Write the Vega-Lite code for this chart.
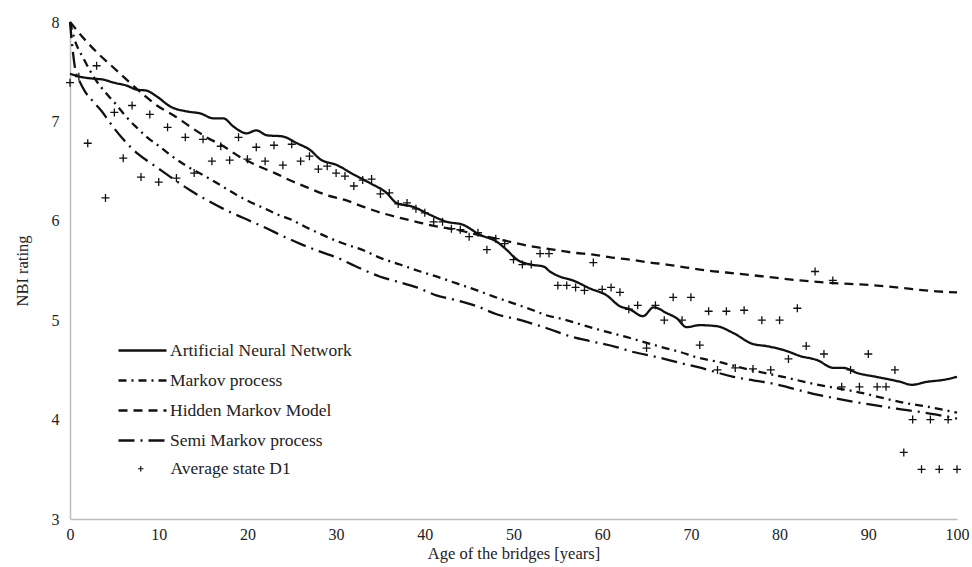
{
  "$schema": "https://vega.github.io/schema/vega-lite/v6.json",
  "width": 887,
  "height": 497,
  "autosize": {"type": "none"},
  "padding": {"left": 70, "top": 22, "right": 15, "bottom": 48},
  "background": "white",
  "config": {
    "view": {"stroke": null},
    "font": "Liberation Serif",
    "axis": {
      "domainColor": "#bdbdbd",
      "domainWidth": 1.5,
      "ticks": false,
      "grid": false,
      "labelFont": "Liberation Serif",
      "labelFontSize": 16,
      "labelColor": "#222222",
      "titleFont": "Liberation Serif",
      "titleFontSize": 16.5,
      "titleFontWeight": "normal",
      "titleColor": "#222222"
    },
    "legend": {
      "labelFont": "Liberation Serif",
      "labelFontSize": 17.5,
      "labelColor": "#222222",
      "labelLimit": 400
    }
  },
  "datasets": {
    "lines": [
      {"series": "Artificial Neural Network", "x": 0, "y": 7.48},
      {"series": "Artificial Neural Network", "x": 1.1, "y": 7.45},
      {"series": "Artificial Neural Network", "x": 2.6, "y": 7.43},
      {"series": "Artificial Neural Network", "x": 3.8, "y": 7.42},
      {"series": "Artificial Neural Network", "x": 4.9, "y": 7.39},
      {"series": "Artificial Neural Network", "x": 6.4, "y": 7.36},
      {"series": "Artificial Neural Network", "x": 7.5, "y": 7.32},
      {"series": "Artificial Neural Network", "x": 8.6, "y": 7.31},
      {"series": "Artificial Neural Network", "x": 9.8, "y": 7.25},
      {"series": "Artificial Neural Network", "x": 11.3, "y": 7.15},
      {"series": "Artificial Neural Network", "x": 13.2, "y": 7.10},
      {"series": "Artificial Neural Network", "x": 14.7, "y": 7.08},
      {"series": "Artificial Neural Network", "x": 16.2, "y": 7.03},
      {"series": "Artificial Neural Network", "x": 17.3, "y": 7.03},
      {"series": "Artificial Neural Network", "x": 18.4, "y": 6.95},
      {"series": "Artificial Neural Network", "x": 19.9, "y": 6.88},
      {"series": "Artificial Neural Network", "x": 21.0, "y": 6.91},
      {"series": "Artificial Neural Network", "x": 22.2, "y": 6.86},
      {"series": "Artificial Neural Network", "x": 23.9, "y": 6.85},
      {"series": "Artificial Neural Network", "x": 25.6, "y": 6.78},
      {"series": "Artificial Neural Network", "x": 27.1, "y": 6.71},
      {"series": "Artificial Neural Network", "x": 28.2, "y": 6.62},
      {"series": "Artificial Neural Network", "x": 30.1, "y": 6.56},
      {"series": "Artificial Neural Network", "x": 31.9, "y": 6.47},
      {"series": "Artificial Neural Network", "x": 33.8, "y": 6.38},
      {"series": "Artificial Neural Network", "x": 35.7, "y": 6.28},
      {"series": "Artificial Neural Network", "x": 36.8, "y": 6.18},
      {"series": "Artificial Neural Network", "x": 38.7, "y": 6.14},
      {"series": "Artificial Neural Network", "x": 40.6, "y": 6.06},
      {"series": "Artificial Neural Network", "x": 42.5, "y": 5.99},
      {"series": "Artificial Neural Network", "x": 44.3, "y": 5.96},
      {"series": "Artificial Neural Network", "x": 46.2, "y": 5.86},
      {"series": "Artificial Neural Network", "x": 48.1, "y": 5.79},
      {"series": "Artificial Neural Network", "x": 49.2, "y": 5.71},
      {"series": "Artificial Neural Network", "x": 50.4, "y": 5.61},
      {"series": "Artificial Neural Network", "x": 51.9, "y": 5.56},
      {"series": "Artificial Neural Network", "x": 53.4, "y": 5.54},
      {"series": "Artificial Neural Network", "x": 54.1, "y": 5.49},
      {"series": "Artificial Neural Network", "x": 55.2, "y": 5.44},
      {"series": "Artificial Neural Network", "x": 56.7, "y": 5.40},
      {"series": "Artificial Neural Network", "x": 58.6, "y": 5.32},
      {"series": "Artificial Neural Network", "x": 60.5, "y": 5.25},
      {"series": "Artificial Neural Network", "x": 62.0, "y": 5.14},
      {"series": "Artificial Neural Network", "x": 63.1, "y": 5.11},
      {"series": "Artificial Neural Network", "x": 64.6, "y": 5.04},
      {"series": "Artificial Neural Network", "x": 65.8, "y": 5.13},
      {"series": "Artificial Neural Network", "x": 67.3, "y": 5.07},
      {"series": "Artificial Neural Network", "x": 68.4, "y": 5.02},
      {"series": "Artificial Neural Network", "x": 69.5, "y": 4.93},
      {"series": "Artificial Neural Network", "x": 71.0, "y": 4.95},
      {"series": "Artificial Neural Network", "x": 72.9, "y": 4.94},
      {"series": "Artificial Neural Network", "x": 74.8, "y": 4.87},
      {"series": "Artificial Neural Network", "x": 77.0, "y": 4.76},
      {"series": "Artificial Neural Network", "x": 78.5, "y": 4.74},
      {"series": "Artificial Neural Network", "x": 80.8, "y": 4.69},
      {"series": "Artificial Neural Network", "x": 82.3, "y": 4.64},
      {"series": "Artificial Neural Network", "x": 84.2, "y": 4.60},
      {"series": "Artificial Neural Network", "x": 86.1, "y": 4.52},
      {"series": "Artificial Neural Network", "x": 87.2, "y": 4.52},
      {"series": "Artificial Neural Network", "x": 88.7, "y": 4.47},
      {"series": "Artificial Neural Network", "x": 90.9, "y": 4.43},
      {"series": "Artificial Neural Network", "x": 93.6, "y": 4.38},
      {"series": "Artificial Neural Network", "x": 94.9, "y": 4.35},
      {"series": "Artificial Neural Network", "x": 96.6, "y": 4.38},
      {"series": "Artificial Neural Network", "x": 98.5, "y": 4.40},
      {"series": "Artificial Neural Network", "x": 100, "y": 4.43},

      {"series": "Markov process", "x": 0, "y": 8.0},
      {"series": "Markov process", "x": 0.5, "y": 7.83},
      {"series": "Markov process", "x": 1.6, "y": 7.62},
      {"series": "Markov process", "x": 2.8, "y": 7.43},
      {"series": "Markov process", "x": 4.1, "y": 7.28},
      {"series": "Markov process", "x": 5.3, "y": 7.16},
      {"series": "Markov process", "x": 6.3, "y": 7.05},
      {"series": "Markov process", "x": 7.5, "y": 6.94},
      {"series": "Markov process", "x": 8.7, "y": 6.84},
      {"series": "Markov process", "x": 10.2, "y": 6.74},
      {"series": "Markov process", "x": 11.5, "y": 6.65},
      {"series": "Markov process", "x": 13.0, "y": 6.56},
      {"series": "Markov process", "x": 15.8, "y": 6.42},
      {"series": "Markov process", "x": 17.3, "y": 6.34},
      {"series": "Markov process", "x": 18.8, "y": 6.26},
      {"series": "Markov process", "x": 20.3, "y": 6.19},
      {"series": "Markov process", "x": 21.8, "y": 6.13},
      {"series": "Markov process", "x": 23.5, "y": 6.06},
      {"series": "Markov process", "x": 25.0, "y": 6.01},
      {"series": "Markov process", "x": 26.5, "y": 5.94},
      {"series": "Markov process", "x": 28.2, "y": 5.87},
      {"series": "Markov process", "x": 29.7, "y": 5.81},
      {"series": "Markov process", "x": 31.2, "y": 5.76},
      {"series": "Markov process", "x": 32.9, "y": 5.71},
      {"series": "Markov process", "x": 34.9, "y": 5.63},
      {"series": "Markov process", "x": 37.2, "y": 5.56},
      {"series": "Markov process", "x": 39.5, "y": 5.49},
      {"series": "Markov process", "x": 41.3, "y": 5.44},
      {"series": "Markov process", "x": 43.6, "y": 5.37},
      {"series": "Markov process", "x": 45.9, "y": 5.30},
      {"series": "Markov process", "x": 47.7, "y": 5.24},
      {"series": "Markov process", "x": 50.0, "y": 5.17},
      {"series": "Markov process", "x": 52.2, "y": 5.10},
      {"series": "Markov process", "x": 53.7, "y": 5.05},
      {"series": "Markov process", "x": 55.6, "y": 5.01},
      {"series": "Markov process", "x": 57.5, "y": 4.96},
      {"series": "Markov process", "x": 59.4, "y": 4.91},
      {"series": "Markov process", "x": 61.1, "y": 4.87},
      {"series": "Markov process", "x": 62.8, "y": 4.83},
      {"series": "Markov process", "x": 64.3, "y": 4.79},
      {"series": "Markov process", "x": 67.1, "y": 4.72},
      {"series": "Markov process", "x": 68.8, "y": 4.68},
      {"series": "Markov process", "x": 70.5, "y": 4.63},
      {"series": "Markov process", "x": 73.6, "y": 4.57},
      {"series": "Markov process", "x": 76.7, "y": 4.50},
      {"series": "Markov process", "x": 80.4, "y": 4.43},
      {"series": "Markov process", "x": 83.8, "y": 4.36},
      {"series": "Markov process", "x": 86.8, "y": 4.31},
      {"series": "Markov process", "x": 88.7, "y": 4.28},
      {"series": "Markov process", "x": 90.6, "y": 4.24},
      {"series": "Markov process", "x": 94.0, "y": 4.17},
      {"series": "Markov process", "x": 97.3, "y": 4.12},
      {"series": "Markov process", "x": 100, "y": 4.07},

      {"series": "Hidden Markov Model", "x": 0, "y": 8.0},
      {"series": "Hidden Markov Model", "x": 1.8, "y": 7.81},
      {"series": "Hidden Markov Model", "x": 3.2, "y": 7.68},
      {"series": "Hidden Markov Model", "x": 4.8, "y": 7.55},
      {"series": "Hidden Markov Model", "x": 6.5, "y": 7.41},
      {"series": "Hidden Markov Model", "x": 8.4, "y": 7.26},
      {"series": "Hidden Markov Model", "x": 9.8, "y": 7.16},
      {"series": "Hidden Markov Model", "x": 11.7, "y": 7.06},
      {"series": "Hidden Markov Model", "x": 13.5, "y": 6.95},
      {"series": "Hidden Markov Model", "x": 15.4, "y": 6.84},
      {"series": "Hidden Markov Model", "x": 17.3, "y": 6.75},
      {"series": "Hidden Markov Model", "x": 19.2, "y": 6.64},
      {"series": "Hidden Markov Model", "x": 21.0, "y": 6.56},
      {"series": "Hidden Markov Model", "x": 23.1, "y": 6.48},
      {"series": "Hidden Markov Model", "x": 25.0, "y": 6.40},
      {"series": "Hidden Markov Model", "x": 26.9, "y": 6.33},
      {"series": "Hidden Markov Model", "x": 28.9, "y": 6.26},
      {"series": "Hidden Markov Model", "x": 31.0, "y": 6.21},
      {"series": "Hidden Markov Model", "x": 33.1, "y": 6.14},
      {"series": "Hidden Markov Model", "x": 35.1, "y": 6.08},
      {"series": "Hidden Markov Model", "x": 37.2, "y": 6.03},
      {"series": "Hidden Markov Model", "x": 39.5, "y": 5.98},
      {"series": "Hidden Markov Model", "x": 41.5, "y": 5.94},
      {"series": "Hidden Markov Model", "x": 43.6, "y": 5.91},
      {"series": "Hidden Markov Model", "x": 45.9, "y": 5.86},
      {"series": "Hidden Markov Model", "x": 48.1, "y": 5.82},
      {"series": "Hidden Markov Model", "x": 50.0, "y": 5.78},
      {"series": "Hidden Markov Model", "x": 52.2, "y": 5.74},
      {"series": "Hidden Markov Model", "x": 54.5, "y": 5.71},
      {"series": "Hidden Markov Model", "x": 56.7, "y": 5.68},
      {"series": "Hidden Markov Model", "x": 59.0, "y": 5.66},
      {"series": "Hidden Markov Model", "x": 61.1, "y": 5.63},
      {"series": "Hidden Markov Model", "x": 63.1, "y": 5.61},
      {"series": "Hidden Markov Model", "x": 65.4, "y": 5.58},
      {"series": "Hidden Markov Model", "x": 67.3, "y": 5.56},
      {"series": "Hidden Markov Model", "x": 69.5, "y": 5.53},
      {"series": "Hidden Markov Model", "x": 71.8, "y": 5.50},
      {"series": "Hidden Markov Model", "x": 74.0, "y": 5.48},
      {"series": "Hidden Markov Model", "x": 78.2, "y": 5.44},
      {"series": "Hidden Markov Model", "x": 82.3, "y": 5.40},
      {"series": "Hidden Markov Model", "x": 86.8, "y": 5.37},
      {"series": "Hidden Markov Model", "x": 89.1, "y": 5.36},
      {"series": "Hidden Markov Model", "x": 93.2, "y": 5.33},
      {"series": "Hidden Markov Model", "x": 97.7, "y": 5.29},
      {"series": "Hidden Markov Model", "x": 100, "y": 5.28},

      {"series": "Semi Markov process", "x": 0, "y": 8.0},
      {"series": "Semi Markov process", "x": 0.3, "y": 7.72},
      {"series": "Semi Markov process", "x": 0.6, "y": 7.52},
      {"series": "Semi Markov process", "x": 1.1, "y": 7.40},
      {"series": "Semi Markov process", "x": 1.7, "y": 7.30},
      {"series": "Semi Markov process", "x": 2.6, "y": 7.20},
      {"series": "Semi Markov process", "x": 3.6, "y": 7.10},
      {"series": "Semi Markov process", "x": 4.4, "y": 7.00},
      {"series": "Semi Markov process", "x": 6.0, "y": 6.82},
      {"series": "Semi Markov process", "x": 7.7, "y": 6.67},
      {"series": "Semi Markov process", "x": 9.6, "y": 6.55},
      {"series": "Semi Markov process", "x": 11.5, "y": 6.43},
      {"series": "Semi Markov process", "x": 13.5, "y": 6.31},
      {"series": "Semi Markov process", "x": 15.4, "y": 6.21},
      {"series": "Semi Markov process", "x": 17.3, "y": 6.12},
      {"series": "Semi Markov process", "x": 19.5, "y": 6.03},
      {"series": "Semi Markov process", "x": 21.8, "y": 5.94},
      {"series": "Semi Markov process", "x": 23.9, "y": 5.85},
      {"series": "Semi Markov process", "x": 25.9, "y": 5.77},
      {"series": "Semi Markov process", "x": 28.2, "y": 5.69},
      {"series": "Semi Markov process", "x": 30.1, "y": 5.63},
      {"series": "Semi Markov process", "x": 32.5, "y": 5.53},
      {"series": "Semi Markov process", "x": 34.9, "y": 5.44},
      {"series": "Semi Markov process", "x": 36.8, "y": 5.39},
      {"series": "Semi Markov process", "x": 39.1, "y": 5.33},
      {"series": "Semi Markov process", "x": 41.3, "y": 5.25},
      {"series": "Semi Markov process", "x": 43.6, "y": 5.20},
      {"series": "Semi Markov process", "x": 45.9, "y": 5.14},
      {"series": "Semi Markov process", "x": 48.1, "y": 5.06},
      {"series": "Semi Markov process", "x": 50.4, "y": 5.01},
      {"series": "Semi Markov process", "x": 53.4, "y": 4.93},
      {"series": "Semi Markov process", "x": 56.7, "y": 4.83},
      {"series": "Semi Markov process", "x": 58.6, "y": 4.79},
      {"series": "Semi Markov process", "x": 61.6, "y": 4.73},
      {"series": "Semi Markov process", "x": 63.5, "y": 4.68},
      {"series": "Semi Markov process", "x": 66.1, "y": 4.63},
      {"series": "Semi Markov process", "x": 68.8, "y": 4.57},
      {"series": "Semi Markov process", "x": 70.7, "y": 4.53},
      {"series": "Semi Markov process", "x": 74.8, "y": 4.43},
      {"series": "Semi Markov process", "x": 79.3, "y": 4.36},
      {"series": "Semi Markov process", "x": 83.8, "y": 4.26},
      {"series": "Semi Markov process", "x": 88.3, "y": 4.18},
      {"series": "Semi Markov process", "x": 93.2, "y": 4.11},
      {"series": "Semi Markov process", "x": 97.7, "y": 4.05},
      {"series": "Semi Markov process", "x": 100, "y": 4.01}
    ],
    "points": [
      {"series": "Average state D1", "x": 0, "y": 7.39},
      {"series": "Average state D1", "x": 1, "y": 7.45},
      {"series": "Average state D1", "x": 2, "y": 6.78},
      {"series": "Average state D1", "x": 3, "y": 7.56},
      {"series": "Average state D1", "x": 4, "y": 6.23},
      {"series": "Average state D1", "x": 5, "y": 7.09},
      {"series": "Average state D1", "x": 6, "y": 6.63},
      {"series": "Average state D1", "x": 7, "y": 7.16},
      {"series": "Average state D1", "x": 8, "y": 6.44},
      {"series": "Average state D1", "x": 9, "y": 7.07},
      {"series": "Average state D1", "x": 10, "y": 6.39},
      {"series": "Average state D1", "x": 11, "y": 6.94},
      {"series": "Average state D1", "x": 12, "y": 6.43},
      {"series": "Average state D1", "x": 13, "y": 6.84},
      {"series": "Average state D1", "x": 14, "y": 6.48},
      {"series": "Average state D1", "x": 15, "y": 6.82},
      {"series": "Average state D1", "x": 16, "y": 6.60},
      {"series": "Average state D1", "x": 17, "y": 6.75},
      {"series": "Average state D1", "x": 18, "y": 6.61},
      {"series": "Average state D1", "x": 19, "y": 6.84},
      {"series": "Average state D1", "x": 20, "y": 6.62},
      {"series": "Average state D1", "x": 21, "y": 6.74},
      {"series": "Average state D1", "x": 22, "y": 6.60},
      {"series": "Average state D1", "x": 23, "y": 6.76},
      {"series": "Average state D1", "x": 24, "y": 6.56},
      {"series": "Average state D1", "x": 25, "y": 6.77},
      {"series": "Average state D1", "x": 26, "y": 6.60},
      {"series": "Average state D1", "x": 27, "y": 6.65},
      {"series": "Average state D1", "x": 28, "y": 6.52},
      {"series": "Average state D1", "x": 29, "y": 6.55},
      {"series": "Average state D1", "x": 30, "y": 6.48},
      {"series": "Average state D1", "x": 31, "y": 6.45},
      {"series": "Average state D1", "x": 32, "y": 6.35},
      {"series": "Average state D1", "x": 33, "y": 6.41},
      {"series": "Average state D1", "x": 34, "y": 6.42},
      {"series": "Average state D1", "x": 35, "y": 6.27},
      {"series": "Average state D1", "x": 36, "y": 6.28},
      {"series": "Average state D1", "x": 37, "y": 6.17},
      {"series": "Average state D1", "x": 38, "y": 6.18},
      {"series": "Average state D1", "x": 39, "y": 6.12},
      {"series": "Average state D1", "x": 40, "y": 6.08},
      {"series": "Average state D1", "x": 41, "y": 5.99},
      {"series": "Average state D1", "x": 42, "y": 5.99},
      {"series": "Average state D1", "x": 43, "y": 5.92},
      {"series": "Average state D1", "x": 44, "y": 5.91},
      {"series": "Average state D1", "x": 45, "y": 5.84},
      {"series": "Average state D1", "x": 46, "y": 5.88},
      {"series": "Average state D1", "x": 47, "y": 5.71},
      {"series": "Average state D1", "x": 48, "y": 5.82},
      {"series": "Average state D1", "x": 49, "y": 5.77},
      {"series": "Average state D1", "x": 50, "y": 5.61},
      {"series": "Average state D1", "x": 51, "y": 5.56},
      {"series": "Average state D1", "x": 52, "y": 5.56},
      {"series": "Average state D1", "x": 53, "y": 5.67},
      {"series": "Average state D1", "x": 54, "y": 5.67},
      {"series": "Average state D1", "x": 55, "y": 5.35},
      {"series": "Average state D1", "x": 56, "y": 5.35},
      {"series": "Average state D1", "x": 57, "y": 5.33},
      {"series": "Average state D1", "x": 58, "y": 5.30},
      {"series": "Average state D1", "x": 59, "y": 5.58},
      {"series": "Average state D1", "x": 60, "y": 5.31},
      {"series": "Average state D1", "x": 61, "y": 5.33},
      {"series": "Average state D1", "x": 62, "y": 5.28},
      {"series": "Average state D1", "x": 63, "y": 5.11},
      {"series": "Average state D1", "x": 64, "y": 5.15},
      {"series": "Average state D1", "x": 65, "y": 4.72},
      {"series": "Average state D1", "x": 66, "y": 5.15},
      {"series": "Average state D1", "x": 67, "y": 5.00},
      {"series": "Average state D1", "x": 68, "y": 5.23},
      {"series": "Average state D1", "x": 69, "y": 5.00},
      {"series": "Average state D1", "x": 70, "y": 5.23},
      {"series": "Average state D1", "x": 71, "y": 4.75},
      {"series": "Average state D1", "x": 72, "y": 5.09},
      {"series": "Average state D1", "x": 73, "y": 4.50},
      {"series": "Average state D1", "x": 74, "y": 5.09},
      {"series": "Average state D1", "x": 75, "y": 4.52},
      {"series": "Average state D1", "x": 76, "y": 5.10},
      {"series": "Average state D1", "x": 77, "y": 4.51},
      {"series": "Average state D1", "x": 78, "y": 5.00},
      {"series": "Average state D1", "x": 79, "y": 4.50},
      {"series": "Average state D1", "x": 80, "y": 5.00},
      {"series": "Average state D1", "x": 81, "y": 4.61},
      {"series": "Average state D1", "x": 82, "y": 5.12},
      {"series": "Average state D1", "x": 83, "y": 4.74},
      {"series": "Average state D1", "x": 84, "y": 5.49},
      {"series": "Average state D1", "x": 85, "y": 4.66},
      {"series": "Average state D1", "x": 86, "y": 5.40},
      {"series": "Average state D1", "x": 87, "y": 4.33},
      {"series": "Average state D1", "x": 88, "y": 4.50},
      {"series": "Average state D1", "x": 89, "y": 4.33},
      {"series": "Average state D1", "x": 90, "y": 4.66},
      {"series": "Average state D1", "x": 91, "y": 4.33},
      {"series": "Average state D1", "x": 92, "y": 4.33},
      {"series": "Average state D1", "x": 93, "y": 4.50},
      {"series": "Average state D1", "x": 94, "y": 3.67},
      {"series": "Average state D1", "x": 95, "y": 4.00},
      {"series": "Average state D1", "x": 96, "y": 3.50},
      {"series": "Average state D1", "x": 97, "y": 4.00},
      {"series": "Average state D1", "x": 98, "y": 3.50},
      {"series": "Average state D1", "x": 99, "y": 4.00},
      {"series": "Average state D1", "x": 100, "y": 3.50}
    ]
  },
  "encoding": {
    "x": {
      "field": "x",
      "type": "quantitative",
      "scale": {"domain": [0, 100], "nice": false},
      "axis": {
        "title": "Age of the bridges [years]",
        "values": [0, 10, 20, 30, 40, 50, 60, 70, 80, 90, 100],
        "labelPadding": 7,
        "titlePadding": 3,
        "labelFlush": false
      }
    },
    "y": {
      "field": "y",
      "type": "quantitative",
      "scale": {"domain": [3, 8], "nice": false, "zero": false},
      "axis": {
        "title": "NBI rating",
        "values": [3, 4, 5, 6, 7, 8],
        "labelPadding": 11,
        "titlePadding": 21
      }
    }
  },
  "layer": [
    {
      "data": {"name": "lines"},
      "mark": {"type": "line", "color": "#111111", "strokeWidth": 2.3, "interpolate": "monotone"},
      "encoding": {
        "strokeDash": {
          "field": "series",
          "type": "nominal",
          "scale": {
            "domain": ["Artificial Neural Network", "Markov process", "Hidden Markov Model", "Semi Markov process"],
            "range": [[1, 0], [8, 5, 2, 5], [9, 6], [16, 6, 2, 6]]
          },
          "legend": {
            "title": null,
            "orient": "none",
            "legendX": 63,
            "legendY": 319,
            "symbolType": "M-3,0H3",
            "symbolSize": 256,
            "symbolStrokeWidth": 2.3,
            "symbolStrokeColor": "#111111",
            "symbolFillColor": "transparent",
            "labelOffset": 18,
            "rowPadding": 12
          }
        }
      }
    },
    {
      "data": {"name": "points"},
      "mark": {"type": "point", "filled": false, "stroke": "#111111", "strokeWidth": 1.3, "size": 64, "opacity": 1},
      "encoding": {
        "shape": {
          "field": "series",
          "type": "nominal",
          "scale": {"range": ["M-1,0H1M0,-1V1"]},
          "legend": {
            "title": null,
            "orient": "none",
            "legendX": 62,
            "legendY": 438,
            "symbolSize": 30,
            "symbolStrokeWidth": 1.2,
            "symbolStrokeColor": "#111111",
            "symbolFillColor": "transparent",
            "labelOffset": 21
          }
        }
      }
    }
  ]
}
